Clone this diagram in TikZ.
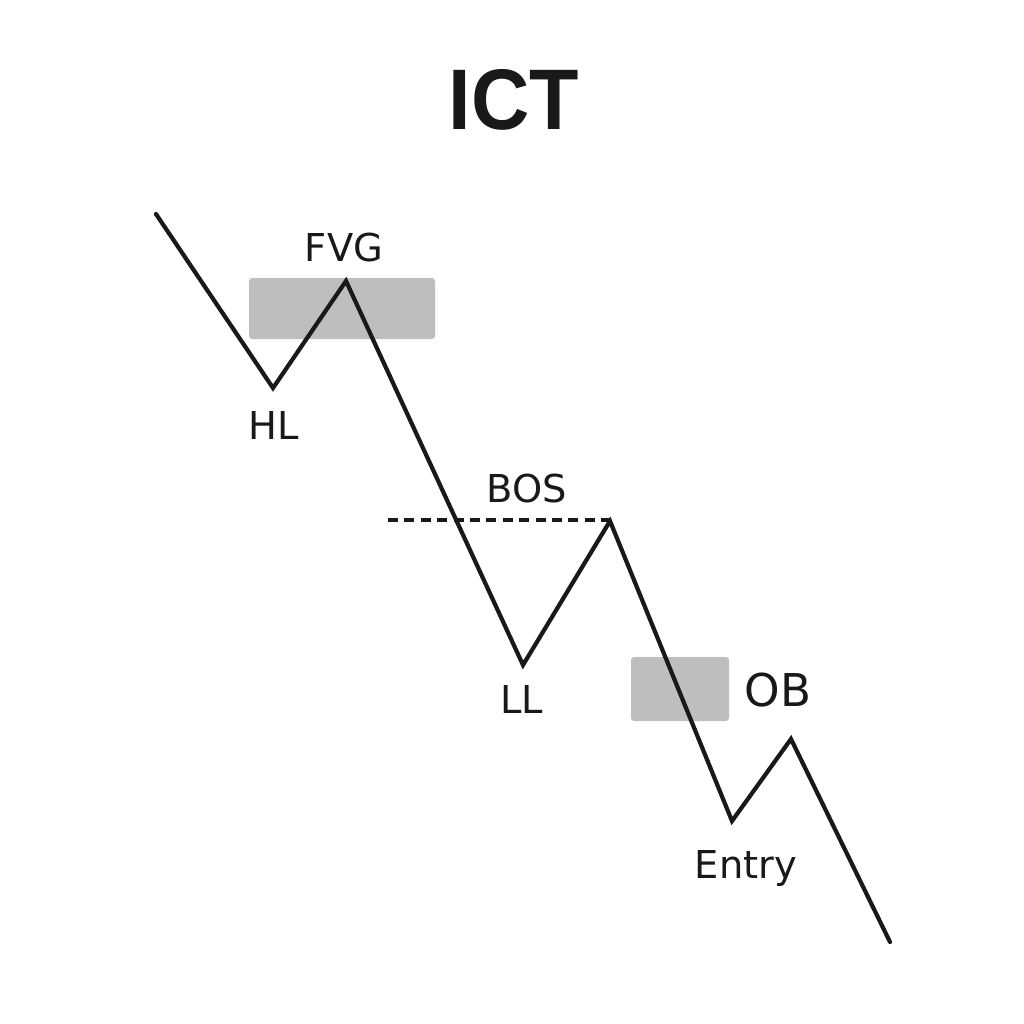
\documentclass[tikz,border=0pt]{standalone}
\usepackage{fontspec}
\setmainfont{DejaVu Sans}
\newfontfamily\titlefont{Liberation Sans}
\definecolor{zonegray}{HTML}{BEBEBE}
\tikzset{
  zone/.style={fill=zonegray, draw=none, rounded corners=1.5pt},
  price/.style={line width=2.1pt, line join=miter, line cap=round, black!90},
  bosline/.style={line width=1.6pt, dash pattern=on 5pt off 3.2pt, black!90},
  lbl/.style={anchor=base, inner sep=0pt, text=black!90, font=\fontsize{19.2}{22}\selectfont},
  biglbl/.style={anchor=base, inner sep=0pt, text=black!90, font=\fontsize{22.6}{26}\selectfont},
  titlestyle/.style={anchor=base, inner sep=0pt, text=black!90, font=\titlefont\bfseries\fontsize{43}{50}\selectfont}
}
\begin{document}
\begin{tikzpicture}[x=0.5pt,y=-0.5pt]
\useasboundingbox[fill=white] (0,0) rectangle (1024,1024);
% title
\node[titlestyle] (title) at (514,129) {\scalebox{0.94}[1]{ICT}};
% zones
\node[zone, minimum width=93pt, minimum height=30.5pt, inner sep=0pt] (fvgbox) at (342,308.5) {};
\node[zone, minimum width=49pt, minimum height=32pt, inner sep=0pt] (obbox) at (680,689) {};
% price path points
\coordinate (p0) at (156,214);
\coordinate (hl) at (273,388);
\coordinate (fvgpk) at (346,281);
\coordinate (ll) at (523,665);
\coordinate (bospk) at (610,521);
\coordinate (entry) at (732,821);
\coordinate (pk2) at (791,739);
\coordinate (pend) at (890,942);
\coordinate (bosstart) at (388,520);
% BOS dashed level
\draw[bosline] (bosstart) -- (bospk |- bosstart);
% price line
\draw[price] (p0) -- (hl) -- (fvgpk) -- (ll) -- (bospk) -- (entry) -- (pk2) -- (pend);
% labels
\node[lbl] (fvglbl) at (344,261) {FVG};
\node[lbl] (hllbl) at (274,439) {HL};
\node[lbl] (boslbl) at (527,502) {BOS};
\node[lbl] (lllbl) at (522,713) {LL};
\node[biglbl] (oblbl) at (778,706) {OB};
\node[lbl] (entrylbl) at (746,878) {Entry};
\end{tikzpicture}
\end{document}
